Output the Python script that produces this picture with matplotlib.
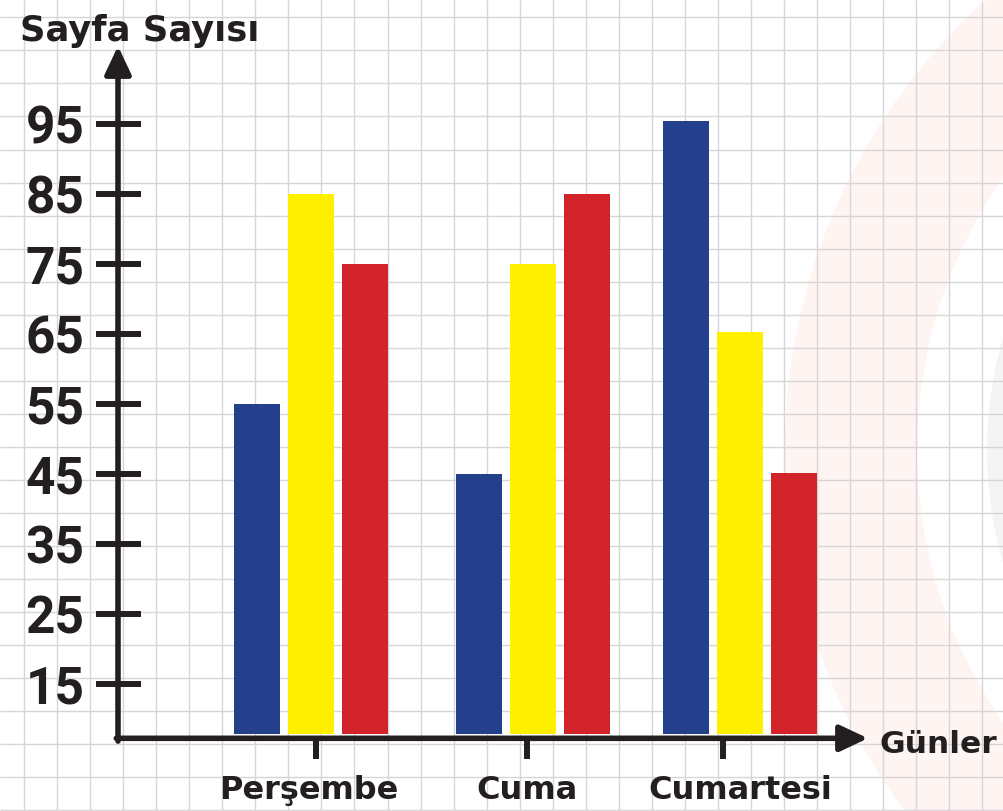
import numpy as np
import matplotlib
matplotlib.use('Agg')
import matplotlib.pyplot as plt
from matplotlib.patches import Wedge

# data
days = ['Perşembe', 'Cuma', 'Cumartesi']
blue_vals = [55, 45, 95.5]
yellow_vals = [85, 75, 65.3]
red_vals = [75, 85, 45.2]
yticks = [15, 25, 35, 45, 55, 65, 75, 85, 95]

# layout (group spacing in the drawing is a bit uneven)
day_pos = np.array([0, 1.035, 2.0])
tick_pos = [0.023, 1.007, 1.921]
label_pos = [-0.01, 1.007, 2.0]

ink = '#231f20'
bar_colors = ['#243f8c', '#fff000', '#d2232a']

W, H = 1004, 811
fig = plt.figure(figsize=(W / 100, H / 100), dpi=100)

# squared paper background + pale decoration
bg = fig.add_axes([0, 0, 1, 1])
bg.set_xlim(0, W)
bg.set_ylim(H, 0)
bg.axis('off')
bg.add_patch(Wedge((1390, 450), 605, 0, 360, width=132, color='#fef4f2', lw=0))
bg.add_patch(Wedge((1390, 450), 403, 0, 360, width=25, color='#f4f4f4', lw=0))
bg.vlines(np.arange(24, W, 33.05), 0, H, color='#d6d6d6', lw=1.0)
bg.hlines(np.arange(17.3, H, 33.05), 0, W, color='#d6d6d6', lw=1.0)

# main axes mapped over the whole figure
ax = fig.add_axes([0, 0, 1, 1])
ax.patch.set_alpha(0)
gx = 214.5  # px per group
gx0 = 311   # px of first group
ax.set_xlim(-gx0 / gx, (W - gx0) / gx)
ax.set_ylim(95 - (H - 124) / 7, 95 + 124 / 7)

yaxis_x = (118 - gx0) / gx
xaxis_y = 95 - (738.3 - 124) / 7
base = 7.86

offsets = [-0.254, 0, 0.254]
width = 0.2145
for vals, off, c in zip([blue_vals, yellow_vals, red_vals], offsets, bar_colors):
    v = np.array(vals)
    ax.bar(day_pos + off, v - base, bottom=base, width=width, color=c, zorder=3)

for s in ax.spines.values():
    s.set_visible(False)
ax.spines['left'].set_position(('data', yaxis_x))
ax.spines['bottom'].set_position(('data', xaxis_y))

ax.set_yticks(yticks, labels=[str(t) for t in yticks],
              fontfamily='Roboto', fontweight='bold', fontsize=37)
ax.tick_params(axis='y', direction='inout', length=32.4, width=4.3,
               color=ink, labelcolor=ink, pad=8)
ax.set_xticks(tick_pos, labels=['', '', ''])
ax.tick_params(axis='x', direction='out', length=15, width=4.3, color=ink)

# axes with arrow heads
arrow = dict(arrowstyle='-|>,head_length=0.85,head_width=0.4', lw=4.0,
             color=ink, shrinkA=0, shrinkB=0, mutation_scale=20)
ax.annotate('', xy=((868 - gx0) / gx, xaxis_y), xytext=(yaxis_x - 0.008, xaxis_y),
            arrowprops=arrow, zorder=5)
ax.annotate('', xy=(yaxis_x, 95 + (124 - 46) / 7), xytext=(yaxis_x, xaxis_y - 0.4),
            arrowprops=arrow, zorder=5)

for p, d in zip(label_pos, days):
    ax.text(p, 95 - (799 - 124) / 7, d, ha='center', va='baseline',
            fontsize=23, fontweight='bold', color=ink)

fig.text(20 / W, 1 - 41 / H, 'Sayfa Sayısı', fontsize=25.5, fontweight='bold',
         color=ink, va='baseline')
fig.text(880 / W, 1 - 753 / H, 'Günler', fontsize=22.5, fontweight='bold',
         color=ink, va='baseline')

fig.savefig('out.png', dpi=100)
